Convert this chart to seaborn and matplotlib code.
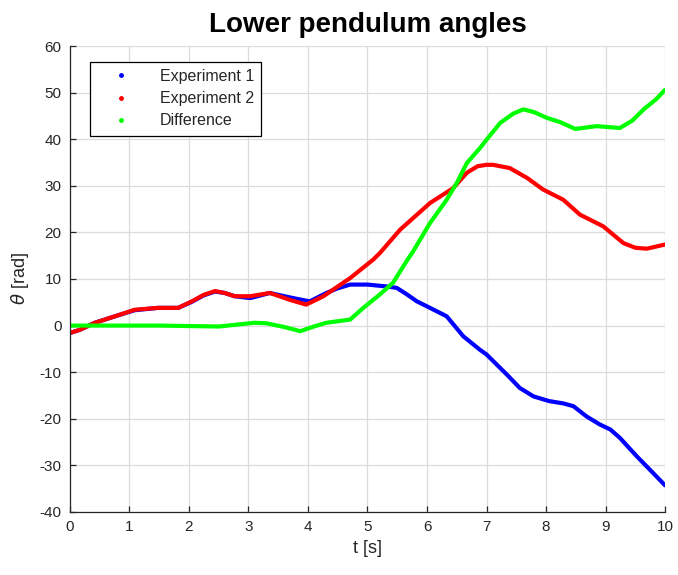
import matplotlib
matplotlib.use("Agg")
import matplotlib.pyplot as plt
from matplotlib.lines import Line2D
import seaborn as sns
import pandas as pd

# ---- data ----
t_exp1 = [0, 0.17, 0.42, 0.76, 1.09, 1.48, 1.82, 2.05, 2.25, 2.44, 2.6, 2.77, 3.03, 3.36, 3.75, 4.03,
          4.31, 4.5, 4.71, 5.0, 5.32, 5.49, 5.65, 5.83, 6.05, 6.33, 6.61, 6.89, 7.0, 7.34, 7.56, 7.79,
          8.05, 8.29, 8.46, 8.68, 8.9, 9.08, 9.24, 9.52, 9.75, 10.0]
exp1 = [-1.6, -0.9, 0.6, 2.0, 3.3, 3.8, 3.8, 5.1, 6.5, 7.3, 7.0, 6.3, 5.9, 7.0, 5.9, 5.2,
        7.0, 8.0, 8.8, 8.8, 8.4, 8.1, 6.8, 5.2, 3.8, 2.0, -2.3, -5.2, -6.2, -10.5, -13.4, -15.2,
        -16.2, -16.7, -17.3, -19.5, -21.2, -22.3, -24.1, -28.0, -31.0, -34.3]

t_exp2 = [0, 0.17, 0.42, 0.76, 1.09, 1.48, 1.82, 2.05, 2.25, 2.44, 2.6, 2.77, 3.03, 3.36, 3.7, 3.97,
          4.26, 4.71, 5.1, 5.21, 5.55, 6.05, 6.44, 6.67, 6.85, 7.0, 7.11, 7.39, 7.68, 7.95, 8.29,
          8.57, 8.96, 9.3, 9.5, 9.69, 10.0]
exp2 = [-1.6, -0.9, 0.6, 2.0, 3.4, 3.8, 3.8, 5.2, 6.6, 7.4, 7.0, 6.3, 6.3, 7.0, 5.5, 4.5,
        6.3, 10.2, 14.2, 15.6, 20.6, 26.3, 29.5, 32.8, 34.2, 34.5, 34.5, 33.8, 31.7, 29.2, 27.0,
        23.8, 21.3, 17.7, 16.7, 16.5, 17.4]

t_diff = [0, 0.5, 1.0, 1.5, 2.0, 2.5, 2.8, 3.1, 3.3, 3.6, 3.87, 4.1, 4.31, 4.71, 4.93,
          5.21, 5.43, 5.66, 5.77, 6.05, 6.33, 6.5, 6.67, 6.89, 7.0, 7.23, 7.45, 7.62,
          7.8, 8.01, 8.25, 8.49, 8.85, 9.24, 9.45, 9.64, 9.85, 10.0]
diff = [0, 0, 0, 0, -0.1, -0.2, 0.2, 0.6, 0.5, -0.3, -1.2, -0.2, 0.6, 1.3, 3.8,
        6.7, 9.2, 13.9, 16.0, 22.0, 27.0, 30.6, 34.9, 38.1, 39.9, 43.5, 45.5, 46.4,
        45.8, 44.6, 43.6, 42.2, 42.8, 42.4, 44.0, 46.4, 48.6, 50.6]

labels = ["Experiment 1", "Experiment 2", "Difference"]
colors = ["#0000ff", "#ff0000", "#00ff00"]
xticks = list(range(0, 11))
yticks = list(range(-40, 61, 10))

# ---- styling ----
sns.set_theme(style="white")
plt.rcParams["font.family"] = ["Liberation Sans", "DejaVu Sans"]
plt.rcParams["axes.unicode_minus"] = False
axis_col = "#262626"

fig = plt.figure(figsize=(6.78, 5.75), dpi=100)
ax = fig.add_axes([0.103, 0.1096, 0.878, 0.8104])

for t, y, c in zip([t_exp1, t_exp2, t_diff], [exp1, exp2, diff], colors):
    df = pd.DataFrame({"t": t, "y": y})
    sns.lineplot(data=df, x="t", y="y", ax=ax, color=c, linewidth=3.0,
                 solid_capstyle="round", solid_joinstyle="round", sort=False)

ax.set_xlim(0, 10)
ax.set_ylim(-40, 60)
ax.set_xticks(xticks)
ax.set_yticks(yticks)
ax.grid(True, color="#dcdcdc", linewidth=0.9)
ax.set_axisbelow(True)
for s in ["top", "right"]:
    ax.spines[s].set_visible(False)
for s in ["left", "bottom"]:
    ax.spines[s].set_color(axis_col)
    ax.spines[s].set_linewidth(0.9)
ax.tick_params(direction="in", length=4, width=0.9, colors=axis_col,
               labelsize=11, pad=6, bottom=True, left=True)

ax.set_xlabel("t [s]", fontsize=13, color=axis_col, labelpad=4)
ax.set_ylabel(r"$\theta$ [rad]", fontsize=13, color=axis_col, labelpad=6)
ax.set_title("Lower pendulum angles", fontsize=20, fontweight="bold", color="black", pad=10)

handles = [Line2D([], [], marker=".", linestyle="", color=c, markersize=5) for c in colors]
leg = ax.legend(handles, labels, loc="upper left", bbox_to_anchor=(0.034, 0.966),
                borderaxespad=0, fancybox=False, framealpha=1, edgecolor="black",
                fontsize=11.5, handlelength=3.0, handletextpad=0.9, labelspacing=0.45,
                borderpad=0.45)
leg.get_frame().set_linewidth(0.9)

fig.savefig("out.png", dpi=100)
